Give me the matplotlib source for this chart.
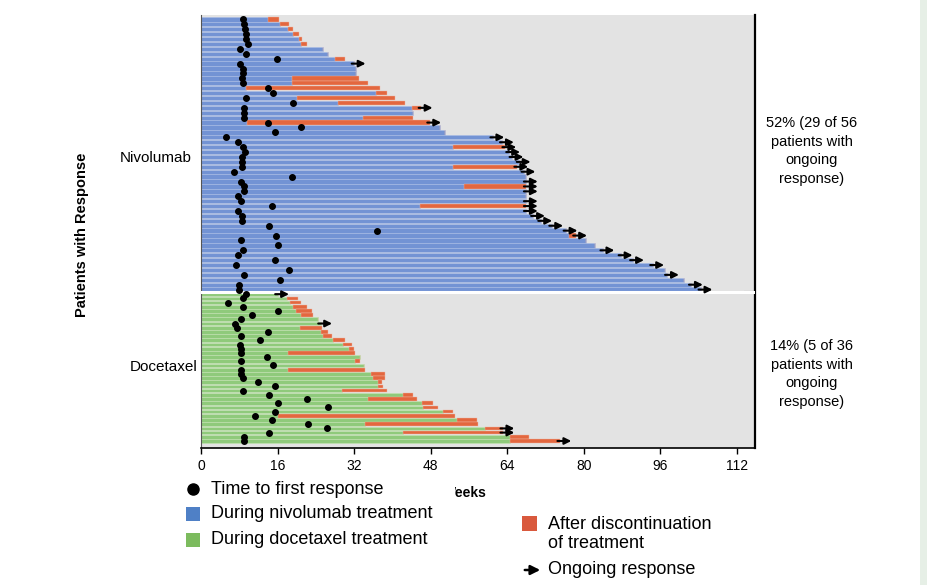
import matplotlib.pyplot as plt
import numpy as np
from matplotlib.patches import Rectangle, FancyArrowPatch
from matplotlib.lines import Line2D

plt.rcParams['font.family'] = ['Liberation Sans', 'DejaVu Sans']

# nivolumab responders, top to bottom (weeks)
nivo_treat_end = [14.0, 16.5, 18.2, 19.2, 20.5, 21.0, 25.5, 26.5, 28.0, 32.0,
                  32.5, 32.5, 19.0, 19.0, 9.5, 36.5, 20.0, 28.6, 44.0, 44.3,
                  33.9, 9.7, 49.9, 51.0, 61.0, 63.0, 52.7, 64.3, 65.0, 66.5,
                  52.7, 67.5, 68.0, 68.0, 55.0, 68.0, 68.0, 68.0, 45.8, 68.0,
                  69.5, 71.0, 73.3, 76.3, 77.0, 80.5, 82.3, 84.0, 87.8, 90.2,
                  94.4, 97.0, 97.5, 101.0, 102.5, 104.5]
nivo_resp_end = [16.3, 18.4, 19.2, 20.5, 21.2, 22.2, 25.5, 26.5, 30.0, 32.0,
                 32.5, 32.5, 33.0, 35.0, 37.4, 38.8, 40.5, 42.6, 46.0, 44.3,
                 44.3, 47.8, 49.9, 51.0, 61.0, 63.0, 63.5, 64.3, 65.0, 66.5,
                 66.0, 67.5, 68.0, 68.0, 68.0, 68.0, 68.0, 68.0, 68.0, 68.0,
                 69.5, 71.0, 73.3, 76.3, 78.3, 80.5, 82.3, 84.0, 87.8, 90.2,
                 94.4, 97.0, 97.5, 101.0, 102.5, 104.5]
nivo_first_resp = [8.7, 8.9, 9.2, 9.4, 9.4, 9.8, 8.2, 9.4, 15.9, 8.2,
                   8.8, 8.8, 8.5, 8.8, 14.0, 15.0, 9.4, 19.2, 9.0, 9.0,
                   9.0, 14.1, 20.8, 15.5, 5.2, 7.8, 8.8, 9.2, 8.5, 8.5,
                   8.5, 6.9, 19.1, 8.3, 8.9, 8.9, 7.8, 8.3, 14.8, 7.8,
                   8.5, 8.5, 14.2, 36.7, 15.7, 8.3, 16.1, 8.8, 7.8, 15.5,
                   7.3, 18.4, 9.0, 16.6, 8.0, 8.0]
nivo_ongoing = [0, 0, 0, 0, 0, 0, 0, 0, 0, 1,
                0, 0, 0, 0, 0, 0, 0, 0, 1, 0,
                0, 1, 0, 0, 1, 1, 1, 1, 1, 1,
                1, 1, 0, 1, 1, 1, 0, 1, 1, 1,
                1, 1, 1, 1, 1, 0, 0, 1, 1, 1,
                1, 0, 1, 0, 1, 1]

# docetaxel responders, top to bottom (weeks)
doce_treat_end = [16.0, 18.0, 18.5, 19.3, 19.8, 21.0, 24.5, 25.0, 20.7, 25.0,
                  25.5, 27.5, 29.7, 31.0, 18.2, 33.2, 32.2, 34.0, 18.2, 35.5,
                  36.0, 37.0, 37.0, 29.5, 42.2, 34.9, 46.2, 46.4, 50.6, 16.1,
                  53.5, 34.3, 59.4, 42.2, 64.6, 64.6]
doce_resp_end = [16.0, 20.2, 21.0, 22.1, 23.2, 23.5, 24.5, 25.0, 25.3, 26.5,
                 27.3, 30.1, 31.6, 32.0, 32.2, 33.2, 33.2, 34.0, 34.3, 38.4,
                 38.4, 37.9, 38.0, 38.9, 44.3, 45.1, 48.5, 49.5, 52.7, 53.1,
                 57.7, 57.9, 63.1, 63.1, 68.6, 75.0]
doce_first_resp = [9.5, 8.8, 5.6, 8.8, 16.1, 10.6, 8.4, 7.1, 7.5, 14.0,
                   8.4, 12.3, 8.2, 8.4, 8.4, 13.9, 8.4, 15.0, 8.4, 8.4,
                   8.8, 12.0, 15.5, 8.8, 14.2, 22.1, 16.0, 26.5, 15.5, 11.3,
                   14.8, 22.4, 26.3, 14.2, 9.0, 9.0]
doce_ongoing = [1, 0, 0, 0, 0, 0, 0, 1, 0, 0,
                0, 0, 0, 0, 0, 0, 0, 0, 0, 0,
                0, 0, 0, 0, 0, 0, 0, 0, 0, 0,
                0, 0, 1, 1, 0, 1]

group_labels = ['Nivolumab', 'Docetaxel']
group_notes = ['52% (29 of 56\npatients with\nongoing\nresponse)',
               '14% (5 of 36\npatients with\nongoing\nresponse)']
week_ticks = [0, 16, 32, 48, 64, 80, 96, 112]

W, H = 928, 585


def fx(px):
    return px / W


def fy(py):
    return 1 - py / H


blue, green, red = '#7393d4', '#8fca7b', '#e3673f'

fig = plt.figure(figsize=(W / 100, H / 100), dpi=100)
ax = fig.add_axes([fx(201), fy(448), fx(755) - fx(201), fy(15) - fy(448)])
ax.set_facecolor('#e3e3e3')

doc_pitch = 0.854
y_nivo = np.arange(len(nivo_treat_end)) + 0.5
y_doce = len(nivo_treat_end) + (np.arange(len(doce_treat_end)) + 0.5) * doc_pitch


def draw_group(y, h, treat, resp, first, ongoing, color, edge):
    treat = np.array(treat)
    resp = np.array(resp)
    ax.barh(y, treat, height=h, color=color, edgecolor=edge, linewidth=0.4)
    ax.barh(y, resp - treat, left=treat, height=h, color=red,
            edgecolor='#f0b6a2', linewidth=0.3)
    ax.plot(first, y, 'o', color='black', ms=4.0, zorder=4)
    for yy, end, on in zip(y, np.maximum(treat, resp), ongoing):
        if on:
            ax.annotate('', xy=(end + 2.4, yy), xytext=(end - 0.5, yy),
                        arrowprops=dict(arrowstyle='-|>', color='black', lw=1.5,
                                        mutation_scale=10, shrinkA=0, shrinkB=0),
                        zorder=5)


draw_group(y_nivo, 0.88, nivo_treat_end, nivo_resp_end, nivo_first_resp,
           nivo_ongoing, blue, '#a9bde6')
draw_group(y_doce, 0.88 * doc_pitch, doce_treat_end, doce_resp_end,
           doce_first_resp, doce_ongoing, green, '#c3e3b3')
ax.axhline(len(nivo_treat_end), color='white', lw=2.2, zorder=3)

ax.set_xlim(0, 115.8)
ax.set_ylim(len(nivo_treat_end) + len(doce_treat_end) * doc_pitch + 1.0, -0.4)

ax.set_xticks(week_ticks)
ax.tick_params(axis='x', length=4, width=1, labelsize=10, pad=4)
ax.yaxis.tick_right()
ax.set_yticks([len(nivo_treat_end)])
ax.tick_params(axis='y', direction='in', length=8, width=1.5, color='#777',
               labelright=False)
ax.spines['top'].set_visible(False)
ax.spines['left'].set_color('#555')
ax.spines['right'].set_linewidth(1.6)
ax.spines['bottom'].set_linewidth(1.2)

# axis and group labels
fig.text(fx(82), fy(235), 'Patients with Response', rotation=90, ha='center',
         va='center', fontsize=10.5, fontweight='bold')
fig.text(fx(192), fy(158), group_labels[0], ha='right', va='center', fontsize=11)
fig.text(fx(198), fy(367), group_labels[1], ha='right', va='center', fontsize=11)
fig.text(fx(812), fy(151), group_notes[0], ha='center', va='center',
         fontsize=10.5, linespacing=1.45)
fig.text(fx(812), fy(374), group_notes[1], ha='center', va='center',
         fontsize=10.5, linespacing=1.45)
fig.text(fx(465), fy(493), 'Weeks', ha='center', va='center', fontsize=10,
         fontweight='bold')

# legend (left block sits over the start of the x label)
fig.add_artist(Rectangle((fx(170), fy(556)), fx(455) - fx(170), 80 / H,
                         facecolor='white', edgecolor='none', zorder=4,
                         transform=fig.transFigure))
fig.add_artist(Line2D([fx(193)], [fy(489)], marker='o', ms=8, color='black',
                      transform=fig.transFigure, zorder=5))
fig.add_artist(Rectangle((fx(186), fy(521)), 14 / W, 14 / H, facecolor='#4f80c6',
                         edgecolor='none', transform=fig.transFigure, zorder=5))
fig.add_artist(Rectangle((fx(186), fy(547)), 14 / W, 14 / H, facecolor='#7cbb5e',
                         edgecolor='none', transform=fig.transFigure, zorder=5))
for py, txt in [(489, 'Time to first response'),
                (514, 'During nivolumab treatment'),
                (540, 'During docetaxel treatment')]:
    fig.text(fx(211), fy(py), txt, ha='left', va='center', fontsize=13, zorder=6)

fig.add_artist(Rectangle((fx(522), fy(531)), 15 / W, 15 / H, facecolor='#d9593d',
                         edgecolor='none', transform=fig.transFigure))
fig.text(fx(548), fy(534), 'After discontinuation\nof treatment', ha='left',
         va='center', fontsize=13, linespacing=1.2)
fig.add_artist(FancyArrowPatch((fx(522), fy(570)), (fx(543), fy(570)),
                               arrowstyle='-|>', mutation_scale=14, lw=1.8,
                               color='black', transform=fig.transFigure))
fig.text(fx(548), fy(570), 'Ongoing response', ha='left', va='center',
         fontsize=13)

# pale frame at the right edge of the scan
fig.add_artist(Rectangle((fx(920), 0), 8 / W, 1, facecolor='#e6efe6',
                         edgecolor='none', transform=fig.transFigure))

fig.savefig('out.png', dpi=100)
